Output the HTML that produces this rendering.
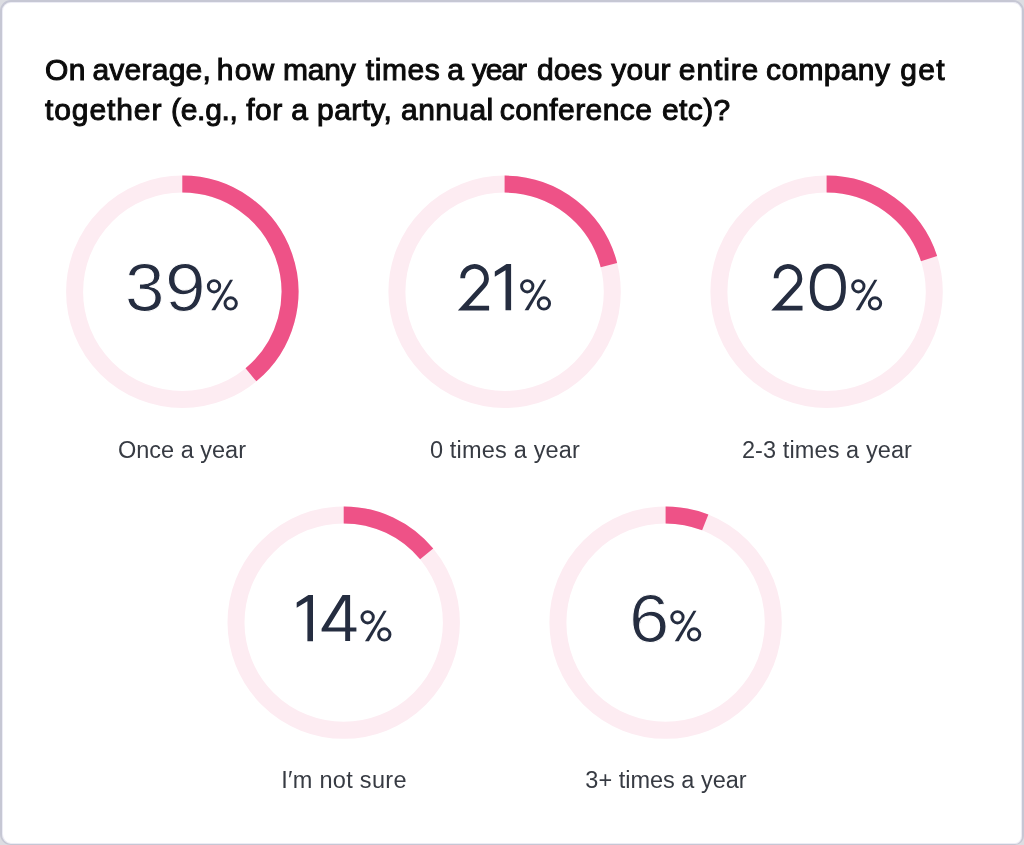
<!DOCTYPE html>
<html><head><meta charset="utf-8"><style>
html,body{margin:0;padding:0;width:1024px;height:845px;overflow:hidden;background:#dcdde2;}
.card{position:absolute;left:0;top:0;width:1024px;height:845px;box-sizing:border-box;border:2px solid #c6c7d4;border-bottom-width:1.3px;border-right-width:2.3px;border-radius:11px 11px 9px 11px;background:#fff;box-shadow:inset 0 0 0 1px #ececf5;}
.title{will-change:transform;position:absolute;left:45px;top:50px;width:960px;font-family:"Liberation Sans",sans-serif;font-size:30px;line-height:39.5px;color:#0b0b0b;-webkit-text-stroke:1px #0b0b0b;white-space:nowrap;}
.l1 .w{position:absolute;top:0;}
.l2{letter-spacing:0.4px;}
svg{position:absolute;left:0;top:0;}
.dg{position:absolute;transform-origin:0 0;font-family:"Liberation Sans",sans-serif;font-size:68px;line-height:80px;color:#252d40;-webkit-text-stroke:1px #fff;}
.lbl{will-change:transform;position:absolute;width:240px;text-align:center;font-family:"Liberation Sans",sans-serif;font-size:23.5px;line-height:30px;color:#373b43;}
</style></head><body>
<div class="card"></div>
<div class="title"><div class="l1" style="position:relative;height:39.5px"><span class="w" style="left:0.0px;letter-spacing:0.5px">On</span><span class="w" style="left:47.45px;letter-spacing:0.24px">average,</span><span class="w" style="left:171.85px;letter-spacing:1.15px">how</span><span class="w" style="left:238.1px;letter-spacing:-0.23px">many</span><span class="w" style="left:320.7px;letter-spacing:0.62px">times</span><span class="w" style="left:402.35px;letter-spacing:0.0px">a</span><span class="w" style="left:426.9px;letter-spacing:-1.08px">year</span><span class="w" style="left:492.05px;letter-spacing:0.03px">does</span><span class="w" style="left:566.3px;letter-spacing:0.3px">your</span><span class="w" style="left:633.85px;letter-spacing:0.87px">entire</span><span class="w" style="left:721.05px;letter-spacing:0.35px">company</span><span class="w" style="left:855.25px;letter-spacing:1.28px">get</span></div><span class="l2"><span style="letter-spacing:0.9px">together</span> <span style="letter-spacing:-0.3px">(e.g.,</span> for a party, annual <span style="margin-left:-2.5px">conference</span> <span style="margin-left:1px">etc)?</span></span></div>
<svg width="1024" height="845" viewBox="0 0 1024 845">
<circle cx="182.3" cy="291.8" r="107.7" fill="none" stroke="#fdecf2" stroke-width="17"/>
<path d="M182.30 184.10A107.7 107.7 0 0 1 250.95 374.78" fill="none" stroke="#ee5287" stroke-width="17"/>
<circle cx="504.6" cy="291.8" r="107.7" fill="none" stroke="#fdecf2" stroke-width="17"/>
<path d="M504.60 184.10A107.7 107.7 0 0 1 608.92 265.02" fill="none" stroke="#ee5287" stroke-width="17"/>
<circle cx="826.6" cy="291.8" r="107.7" fill="none" stroke="#fdecf2" stroke-width="17"/>
<path d="M826.60 184.10A107.7 107.7 0 0 1 929.03 258.52" fill="none" stroke="#ee5287" stroke-width="17"/>
<circle cx="343.7" cy="622.6" r="107.7" fill="none" stroke="#fdecf2" stroke-width="17"/>
<path d="M343.70 514.90A107.7 107.7 0 0 1 426.68 553.95" fill="none" stroke="#ee5287" stroke-width="17"/>
<circle cx="665.6" cy="622.6" r="107.7" fill="none" stroke="#fdecf2" stroke-width="17"/>
<path d="M665.60 514.90A107.7 107.7 0 0 1 705.25 522.46" fill="none" stroke="#ee5287" stroke-width="17"/>
<path fill="none" stroke="#252d40" stroke-width="4.8" stroke-miterlimit="10" d="M462.70,278.25 A11.85,11.85 0 1 1 483.35,286.18 L463.30,308.15 L489.10,308.15"/>
<polygon fill="#252d40" points="494.80,271.55 506.50,264.00 511.10,264.00 511.10,310.35 505.50,310.35 505.50,270.20 494.80,276.65"/>
<path fill="none" stroke="#252d40" stroke-width="4.8" stroke-miterlimit="10" d="M776.10,278.25 A11.85,11.85 0 1 1 796.75,286.18 L776.70,308.15 L802.50,308.15"/>
<path fill="none" stroke="#252d40" stroke-width="4.8" d="M827.85,266.20000000000005 C838.179,266.20000000000005 843.5,273.391 843.5,287.35 C843.5,301.309 838.179,308.5 827.85,308.5 C817.5210000000001,308.5 812.2,301.309 812.2,287.35 C812.2,273.391 817.5210000000001,266.20000000000005 827.85,266.20000000000005 Z"/>
<polygon fill="#252d40" points="296.70,602.55 308.40,595.00 313.00,595.00 313.00,641.35 307.40,641.35 307.40,601.20 296.70,607.65"/>
<path fill="#252d40" fill-rule="evenodd" d="M342.5,595 L350.1,595 L350.1,627.4 L356.4,627.4 L356.4,631.4 L350.1,631.4 L350.1,641 L345.2,641 L345.2,631.4 L321.6,631.4 L321.6,628.8 Z M328.2,627.4 L345.2,627.4 L345.2,599.9 Z"/>
<g fill="none" stroke="#252d40" stroke-width="2.95"><circle cx="214.02" cy="286.30" r="5.68"/><circle cx="230.67" cy="303.45" r="5.68"/></g>
<polygon fill="#252d40" points="230.02,279.75 233.02,279.75 215.27,310.20 211.37,310.20"/>
<g fill="none" stroke="#252d40" stroke-width="2.95"><circle cx="527.25" cy="286.30" r="5.68"/><circle cx="543.90" cy="303.45" r="5.68"/></g>
<polygon fill="#252d40" points="543.25,279.75 546.25,279.75 528.50,310.20 524.60,310.20"/>
<g fill="none" stroke="#252d40" stroke-width="2.95"><circle cx="858.35" cy="286.30" r="5.68"/><circle cx="875.00" cy="303.45" r="5.68"/></g>
<polygon fill="#252d40" points="874.35,279.75 877.35,279.75 859.60,310.20 855.70,310.20"/>
<g fill="none" stroke="#252d40" stroke-width="2.95"><circle cx="367.65" cy="617.30" r="5.68"/><circle cx="384.30" cy="634.45" r="5.68"/></g>
<polygon fill="#252d40" points="383.65,610.75 386.65,610.75 368.90,641.20 365.00,641.20"/>
<g fill="none" stroke="#252d40" stroke-width="2.95"><circle cx="677.45" cy="617.30" r="5.68"/><circle cx="694.10" cy="634.45" r="5.68"/></g>
<polygon fill="#252d40" points="693.45,610.75 696.45,610.75 678.70,641.20 674.80,641.20"/>
</svg>
<div class="lbl" style="left:62.30px;top:434.5px;letter-spacing:0px">Once a year</div>
<div class="lbl" style="left:384.70px;top:434.5px;letter-spacing:0.19px">0 times a year</div>
<div class="lbl" style="left:706.65px;top:434.5px;letter-spacing:0.1px">2-3 times a year</div>
<div class="lbl" style="left:223.85px;top:765.3px;letter-spacing:0.3px">I′m not sure</div>
<div class="lbl" style="left:545.60px;top:765.3px;letter-spacing:0px">3+ times a year</div>
<div class="dg" style="left:125.40px;top:246.20px;transform:translateY(0.6px) scaleX(1.0452)">3</div>
<div class="dg" style="left:164.77px;top:246.20px;transform:translateY(0.6px) scaleX(1.0744)">9</div>
<div class="dg" style="left:628.64px;top:577.20px;transform:translateY(0.6px) scaleX(1.0645)">6</div>
</body></html>
